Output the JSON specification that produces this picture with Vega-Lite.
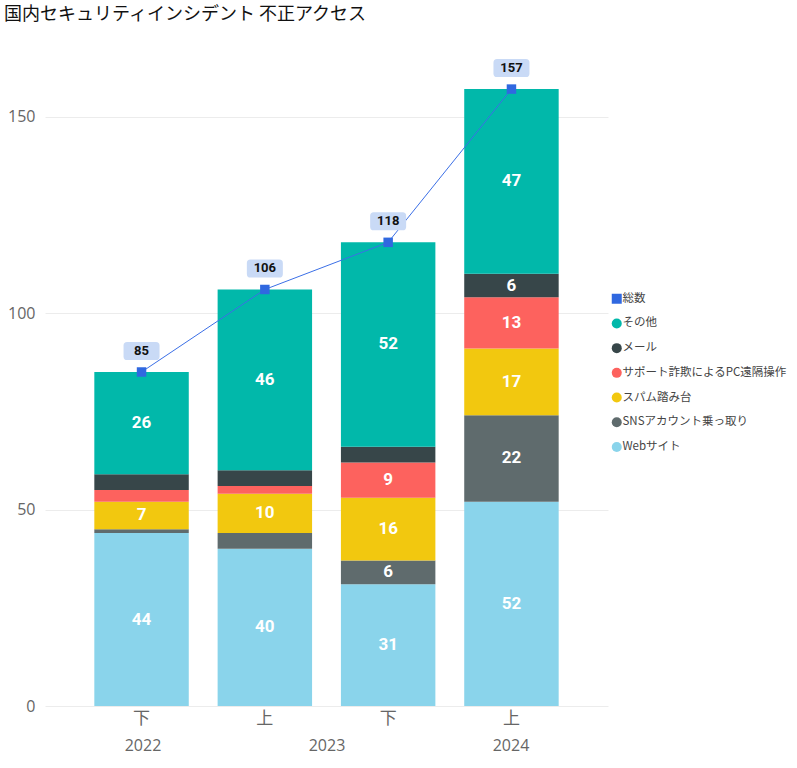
{
  "$schema": "https://vega.github.io/schema/vega-lite/v6.json",
  "autosize": "none",
  "padding": {"left": 45, "top": 38, "right": 189, "bottom": 62},
  "width": 563,
  "height": 668,
  "background": "white",
  "title": {
    "text": "国内セキュリティインシデント 不正アクセス",
    "anchor": "start",
    "frame": "group",
    "dx": -41,
    "offset": 14,
    "font": "Noto Sans CJK JP",
    "fontSize": 18,
    "fontWeight": "normal",
    "color": "#111"
  },
  "config": {
    "view": {"stroke": null},
    "font": "Noto Sans CJK JP"
  },
  "datasets": {
    "bars": [
      {"period": "2022下", "series": "Webサイト", "order": 1, "value": 44},
      {"period": "2022下", "series": "SNSアカウント乗っ取り", "order": 2, "value": 1},
      {"period": "2022下", "series": "スパム踏み台", "order": 3, "value": 7},
      {"period": "2022下", "series": "サポート詐欺によるPC遠隔操作", "order": 4, "value": 3},
      {"period": "2022下", "series": "メール", "order": 5, "value": 4},
      {"period": "2022下", "series": "その他", "order": 6, "value": 26},
      {"period": "2023上", "series": "Webサイト", "order": 1, "value": 40},
      {"period": "2023上", "series": "SNSアカウント乗っ取り", "order": 2, "value": 4},
      {"period": "2023上", "series": "スパム踏み台", "order": 3, "value": 10},
      {"period": "2023上", "series": "サポート詐欺によるPC遠隔操作", "order": 4, "value": 2},
      {"period": "2023上", "series": "メール", "order": 5, "value": 4},
      {"period": "2023上", "series": "その他", "order": 6, "value": 46},
      {"period": "2023下", "series": "Webサイト", "order": 1, "value": 31},
      {"period": "2023下", "series": "SNSアカウント乗っ取り", "order": 2, "value": 6},
      {"period": "2023下", "series": "スパム踏み台", "order": 3, "value": 16},
      {"period": "2023下", "series": "サポート詐欺によるPC遠隔操作", "order": 4, "value": 9},
      {"period": "2023下", "series": "メール", "order": 5, "value": 4},
      {"period": "2023下", "series": "その他", "order": 6, "value": 52},
      {"period": "2024上", "series": "Webサイト", "order": 1, "value": 52},
      {"period": "2024上", "series": "SNSアカウント乗っ取り", "order": 2, "value": 22},
      {"period": "2024上", "series": "スパム踏み台", "order": 3, "value": 17},
      {"period": "2024上", "series": "サポート詐欺によるPC遠隔操作", "order": 4, "value": 13},
      {"period": "2024上", "series": "メール", "order": 5, "value": 6},
      {"period": "2024上", "series": "その他", "order": 6, "value": 47}
    ],
    "totals": [
      {"period": "2022下", "series": "総数", "total": 85},
      {"period": "2023上", "series": "総数", "total": 106},
      {"period": "2023下", "series": "総数", "total": 118},
      {"period": "2024上", "series": "総数", "total": 157}
    ],
    "years": [
      {"year": "2022"},
      {"year": "2023"},
      {"year": "2024"}
    ]
  },
  "layer": [
    {
      "encoding": {
        "x": {
          "field": "period",
          "type": "ordinal",
          "sort": ["2022下", "2023上", "2023下", "2024上"],
          "scale": {"paddingInner": 0.234, "paddingOuter": 0.4},
          "axis": {
            "title": null,
            "orient": "bottom",
            "labelExpr": "substring(datum.label, 4)",
            "labelAngle": 0,
            "labelFontSize": 17,
            "labelColor": "#666",
            "labelPadding": 4,
            "ticks": false,
            "domain": false,
            "labelFont": "Noto Sans CJK JP"
          }
        }
      },
      "layer": [
        {
          "data": {"name": "bars"},
          "transform": [
            {"stack": "value", "groupby": ["period"], "sort": [{"field": "order", "order": "ascending"}], "as": ["v0", "v1"]}
          ],
          "mark": {"type": "bar"},
          "encoding": {
            "y": {
              "field": "v1",
              "type": "quantitative",
              "scale": {"domain": [0, 170], "nice": false},
              "axis": {
                "title": null,
                "values": [0, 50, 100, 150],
                "grid": true,
                "gridColor": "#ececec",
                "gridWidth": 1,
                "domain": false,
                "ticks": false,
                "labelFontSize": 16,
                "labelColor": "#666",
                "labelPadding": 10,
                "labelFont": "Open Sans"
              }
            },
            "y2": {"field": "v0"},
            "color": {
              "field": "series",
              "type": "nominal",
              "scale": {
                "domain": ["総数", "その他", "メール", "サポート詐欺によるPC遠隔操作", "スパム踏み台", "SNSアカウント乗っ取り", "Webサイト"],
                "range": ["#3068E0", "#01B8AA", "#374649", "#FD625E", "#F2C80F", "#5F6B6D", "#8AD4EB"]
              },
              "legend": {
                "title": null,
                "orient": "none",
                "legendX": 566,
                "legendY": 255,
                "symbolSize": 100,
                "symbolStrokeWidth": 0,
                "labelFontSize": 11.5,
                "labelColor": "#444",
                "labelFont": "Noto Sans CJK JP",
                "labelOffset": 0,
                "rowPadding": 11.7,
                "labelLimit": 300
              }
            }
          }
        },
        {
          "data": {"name": "bars"},
          "transform": [
            {"stack": "value", "groupby": ["period"], "sort": [{"field": "order", "order": "ascending"}], "as": ["v0", "v1"]},
            {"filter": "datum.value >= 5"},
            {"calculate": "(datum.v0 + datum.v1) / 2", "as": "mid"}
          ],
          "mark": {"type": "text", "font": "Roboto", "fontWeight": "bold", "fontSize": 17, "color": "white", "baseline": "middle"},
          "encoding": {
            "y": {"field": "mid", "type": "quantitative"},
            "text": {"field": "value", "type": "quantitative"}
          }
        },
        {
          "data": {"name": "totals"},
          "mark": {"type": "line", "color": "#3B6FE6", "strokeWidth": 1},
          "encoding": {
            "y": {"field": "total", "type": "quantitative"}
          }
        },
        {
          "data": {"name": "totals"},
          "mark": {"type": "point", "filled": true, "opacity": 1, "size": 90},
          "encoding": {
            "y": {"field": "total", "type": "quantitative"},
            "color": {"field": "series", "type": "nominal"},
            "shape": {
              "field": "series",
              "type": "nominal",
              "scale": {
                "domain": ["総数", "その他", "メール", "サポート詐欺によるPC遠隔操作", "スパム踏み台", "SNSアカウント乗っ取り", "Webサイト"],
                "range": ["square", "circle", "circle", "circle", "circle", "circle", "circle"]
              }
            }
          }
        },
        {
          "data": {"name": "totals"},
          "mark": {
            "type": "point",
            "filled": true,
            "opacity": 1,
            "color": "#C9DAF6",
            "size": 1296,
            "shape": "M-0.8,-0.5 L0.8,-0.5 Q1,-0.5 1,-0.3 L1,0.3 Q1,0.5 0.8,0.5 L-0.8,0.5 Q-1,0.5 -1,0.3 L-1,-0.3 Q-1,-0.5 -0.8,-0.5 Z"
          },
          "encoding": {
            "y": {"field": "total", "type": "quantitative"},
            "yOffset": {"value": -21}
          }
        },
        {
          "data": {"name": "totals"},
          "mark": {"type": "text", "font": "Roboto", "fontWeight": "bold", "fontSize": 13, "color": "#111", "baseline": "middle"},
          "encoding": {
            "y": {"field": "total", "type": "quantitative"},
            "yOffset": {"value": -21},
            "text": {"field": "total", "type": "quantitative"}
          }
        }
      ]
    },
    {
      "data": {"name": "years"},
      "mark": {"type": "point", "opacity": 0},
      "encoding": {
        "x": {
          "field": "year",
          "type": "ordinal",
          "scale": {"type": "point", "padding": 0.53},
          "axis": {
            "title": null,
            "orient": "bottom",
            "offset": 23,
            "labelAngle": 0,
            "labelFontSize": 16,
            "labelColor": "#666",
            "labelPadding": 8,
            "ticks": false,
            "domain": false,
            "labelFont": "Open Sans"
          }
        }
      }
    }
  ],
  "resolve": {"scale": {"x": "independent"}, "axis": {"x": "independent"}}
}
